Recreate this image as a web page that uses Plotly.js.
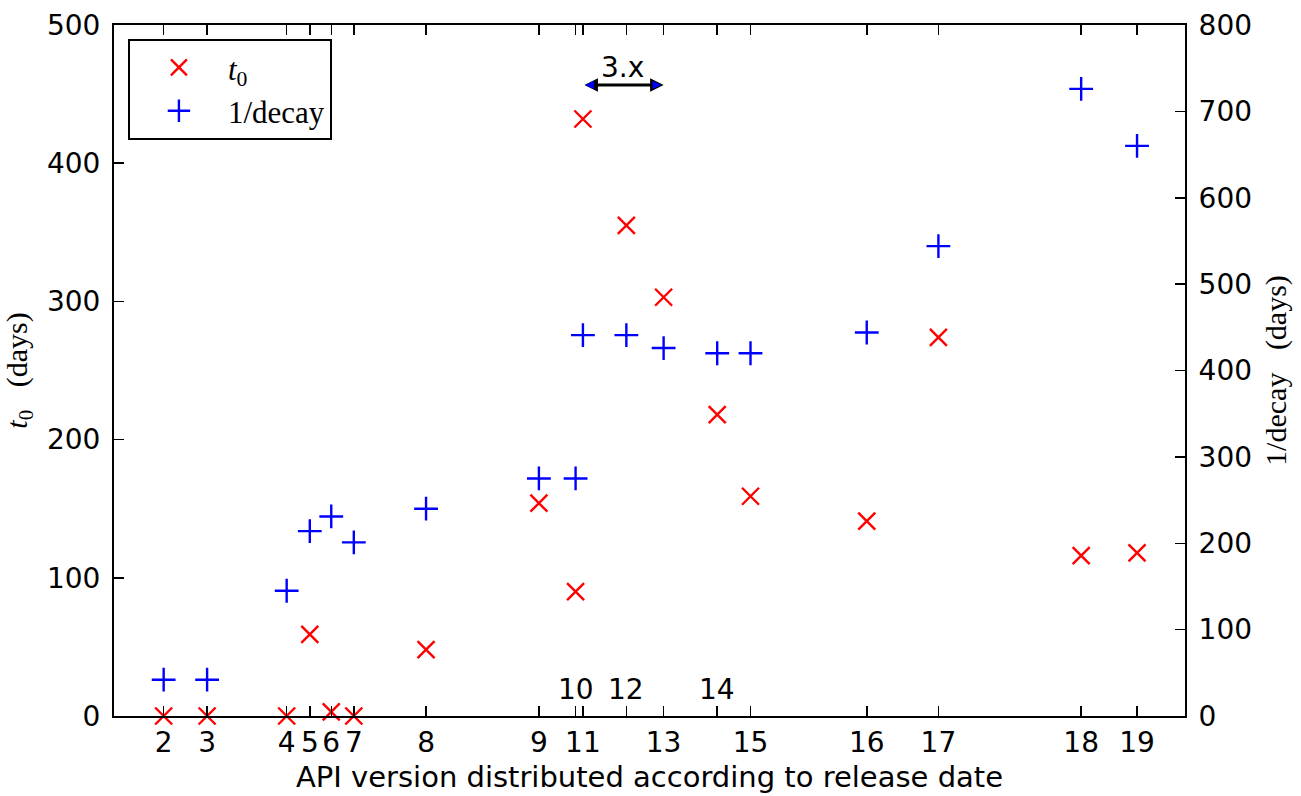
<!DOCTYPE html>
<html><head><meta charset="utf-8">
<script src="https://cdn.plot.ly/plotly-3.0.1.min.js"></script>
<style>html,body{margin:0;padding:0;background:#fff}#chart{width:1301px;height:796px}</style>
</head><body><div id="chart"></div>
<script>
// API levels and their release dates
const apiLevels = [2, 3, 4, 5, 6, 7, 8, 9, 10, 11, 12, 13, 14, 15, 16, 17, 18, 19];
const releaseDates = ['2009-02-09', '2009-04-27', '2009-09-15', '2009-10-26', '2009-12-03', '2010-01-12',
  '2010-05-20', '2010-12-06', '2011-02-09', '2011-02-22', '2011-05-10', '2011-07-15', '2011-10-18',
  '2011-12-16', '2012-07-09', '2012-11-13', '2013-07-24', '2013-10-31'];
// t0 (days), left axis
const t0Days = [0, 0, 0, 59, 3, 0, 48, 154, 90, 432, 355, 303, 218, 159, 141, 274, 116, 118];
// 1/decay (days), right axis
const decayDays = [42, 42, 145, 214, 231, 201, 240, 275, 275, 441, 441, 426, 420, 420, 444, 544, 726, 660];
// bottom tick labels (10, 12 and 14 are written higher up)
const tickLabels = ['2', '3', '4', '5', '6', '7', '8', '9', '', '11', '', '13', '', '15', '16', '17', '18', '19'];
const raisedLabels = ['10', '12', '14'];
const raisedDates = ['2011-02-09', '2011-05-10', '2011-10-18'];
// the 3.x span: from API 11 to API 13
const spanLabel = '3.x';
const spanStart = '2011-02-22';
const spanEnd = '2011-07-15';

const sans = 'DejaVu Sans, sans-serif';
const serif = 'Liberation Serif, serif';

const traces = [
  {
    x: releaseDates, y: t0Days, type: 'scatter', mode: 'markers', name: '<i>t</i><sub>0</sub>',
    cliponaxis: false,
    marker: {symbol: 'x-thin', size: 17, color: '#ff0000', line: {color: '#ff0000', width: 2.4}},
    yaxis: 'y'
  },
  {
    x: releaseDates, y: decayDays, type: 'scatter', mode: 'markers', name: '1/decay',
    cliponaxis: false,
    marker: {symbol: 'cross-thin', size: 17, color: '#0000ff', line: {color: '#0000ff', width: 2.4}},
    yaxis: 'y2'
  }
];

const mid = new Date((Date.parse(spanStart) + Date.parse(spanEnd)) / 2).toISOString().slice(0, 10);

const annotations = raisedLabels.map((t, i) => ({
  x: raisedDates[i], y: 0.038, xref: 'x', yref: 'paper', text: t, showarrow: false,
  xanchor: 'center', yanchor: 'middle', font: {family: sans, size: 28, color: '#000'}
}));
annotations.push({
  x: spanEnd, y: 0.913, xref: 'x', yref: 'paper', ax: spanStart, axref: 'x', ay: 0, ayref: 'pixel',
  text: '', showarrow: true, arrowside: 'end+start', arrowhead: 2, startarrowhead: 2,
  arrowsize: 0.9, startarrowsize: 0.9, arrowwidth: 3, arrowcolor: '#000', standoff: 0, startstandoff: 0
});
annotations.push({
  x: spanEnd, y: 0.913, xref: 'x', yref: 'paper', ax: -12, ay: 0,
  text: '', showarrow: true, arrowhead: 2, arrowsize: 1.7, arrowwidth: 1, arrowcolor: '#0000ff', standoff: 2.5
});
annotations.push({
  x: spanStart, y: 0.913, xref: 'x', yref: 'paper', ax: 12, ay: 0,
  text: '', showarrow: true, arrowhead: 2, arrowsize: 1.7, arrowwidth: 1, arrowcolor: '#0000ff', standoff: 2.5
});
annotations.push({
  x: mid, y: 0.939, xref: 'x', yref: 'paper', text: spanLabel, showarrow: false,
  xanchor: 'center', yanchor: 'middle', font: {family: sans, size: 28, color: '#000'}
});

const layout = {
  width: 1301, height: 796,
  margin: {l: 114, r: 116, t: 25, b: 80},
  paper_bgcolor: '#fff', plot_bgcolor: '#fff',
  font: {family: sans, size: 28, color: '#000'},
  showlegend: true,
  legend: {
    x: 0.013, y: 0.98, xanchor: 'left', yanchor: 'top',
    bordercolor: '#000', borderwidth: 2, bgcolor: '#fff',
    font: {family: serif, size: 31, color: '#000'},
    traceorder: 'normal', itemwidth: 88
  },
  xaxis: {
    type: 'date', range: ['2008-11-13', '2014-01-24'],
    tickmode: 'array', tickvals: releaseDates, ticktext: tickLabels,
    ticks: 'inside', ticklen: 10, tickwidth: 1.5, tickcolor: '#000',
    showline: true, linecolor: '#000', linewidth: 2, mirror: 'ticks',
    showgrid: false, zeroline: false,
    tickfont: {family: sans, size: 28, color: '#000'},
    title: {text: 'API version distributed according to release date', font: {family: sans, size: 29, color: '#000'}, standoff: 9}
  },
  yaxis: {
    range: [0, 500], dtick: 100, tick0: 0,
    ticks: 'inside', ticklen: 10, tickwidth: 1.5, tickcolor: '#000',
    showline: true, linecolor: '#000', linewidth: 2,
    showgrid: false, zeroline: false, ticklabelstandoff: 6,
    tickfont: {family: sans, size: 28, color: '#000'},
    title: {text: '<i>t</i><sub>0</sub>\u00a0\u00a0\u00a0(days)', font: {family: serif, size: 30, color: '#000'}, standoff: 12}
  },
  yaxis2: {
    range: [0, 800], dtick: 100, tick0: 0, overlaying: 'y', side: 'right',
    ticks: 'inside', ticklen: 10, tickwidth: 1.5, tickcolor: '#000',
    showline: true, linecolor: '#000', linewidth: 2,
    showgrid: false, zeroline: false, ticklabelstandoff: 6,
    tickfont: {family: sans, size: 28, color: '#000'},
    title: {text: '1/decay\u00a0\u00a0\u00a0(days)', font: {family: serif, size: 30, color: '#000'}, standoff: 14}
  },
  annotations: annotations
};

Plotly.newPlot('chart', traces, layout, {displayModeBar: false, staticPlot: true});
</script></body></html>
